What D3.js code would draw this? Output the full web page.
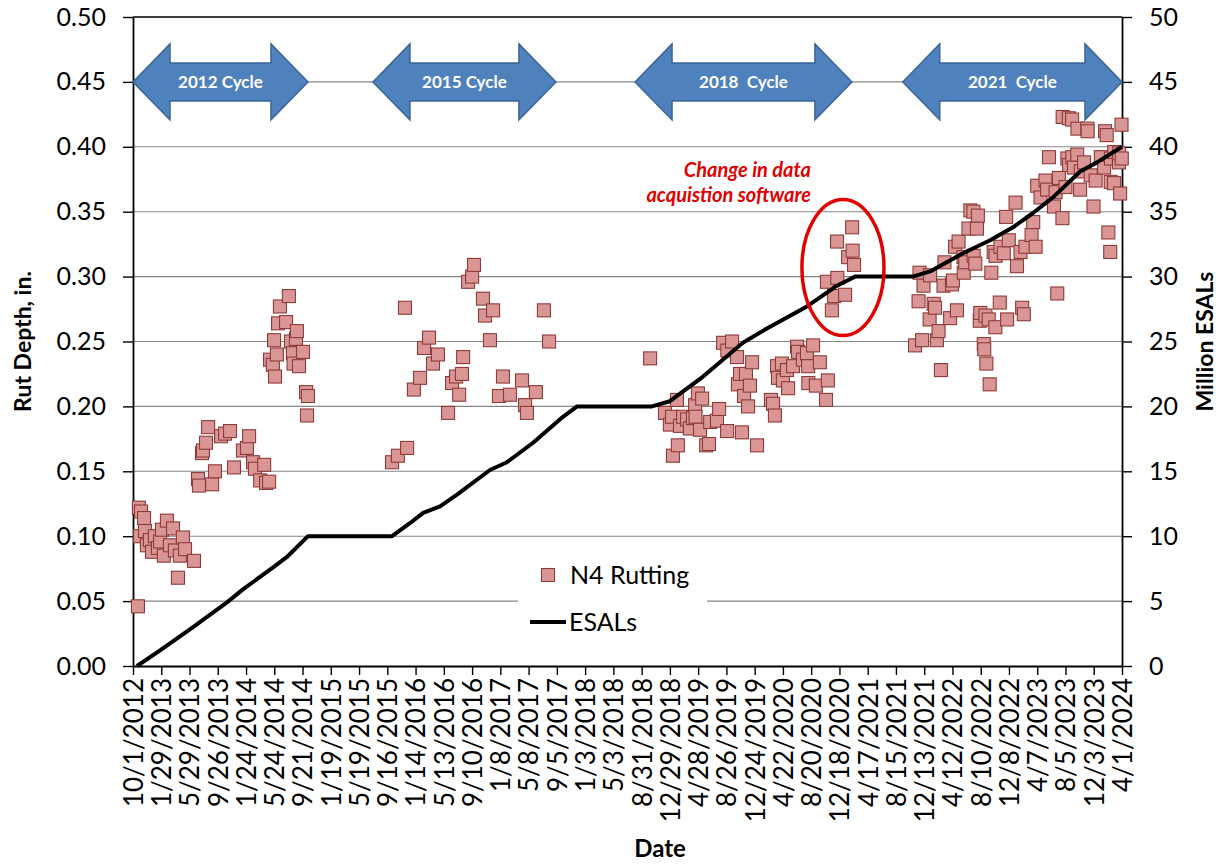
<!DOCTYPE html>
<html><head><meta charset="utf-8">
<script src="https://cdn.jsdelivr.net/npm/d3@7"></script>
<style>
body{margin:0;background:#fff}
svg text{font-family:Lato,"Open Sans",sans-serif;fill:#000}
</style>
</head><body>
<svg id="chart" width="1221" height="865"></svg>
<script>
// ---------------- DATA ----------------
const tickLabels = ["10/1/2012","1/29/2013","5/29/2013","9/26/2013","1/24/2014","5/24/2014","9/21/2014","1/19/2015","5/19/2015","9/16/2015","1/14/2016","5/13/2016","9/10/2016","1/8/2017","5/8/2017","9/5/2017","1/3/2018","5/3/2018","8/31/2018","12/29/2018","4/28/2019","8/26/2019","12/24/2019","4/22/2020","8/20/2020","12/18/2020","4/17/2021","8/15/2021","12/13/2021","4/12/2022","8/10/2022","12/8/2022","4/7/2023","8/5/2023","12/3/2023","4/1/2024"];
const rutTicks = [0,0.05,0.10,0.15,0.20,0.25,0.30,0.35,0.40,0.45,0.50];
const esalTicks = [0,5,10,15,20,25,30,35,40,45,50];

const cycleLabels = ["2012 Cycle","2015 Cycle","2018  Cycle","2021  Cycle"];
const cycleStarts = ["2012-10-01","2015-07-17","2018-08-03","2021-09-13"];
const cycleEnds   = ["2014-10-14","2017-09-01","2021-02-09","2024-04-01"];
const cycleLevel = 0.45;

const annotationLines = ["Change in data","acquistion software"];
const annotationFocus = ["2021-01-02", 0.307];

// ESALs (million) cumulative
const esalDates = ["2012-10-18","2013-01-24","2013-06-13","2013-11-04","2014-01-11","2014-05-19","2014-07-17","2014-10-14",
 "2015-10-06","2015-12-21","2016-02-15","2016-04-27","2016-07-08","2016-11-25","2017-02-05","2017-05-27","2017-10-01","2017-11-30",
 "2018-10-14","2018-12-29","2019-05-19","2019-11-04","2020-02-14","2020-08-02","2020-12-08","2021-02-22",
 "2021-10-26","2022-01-07","2022-05-27","2022-09-19","2022-12-25","2023-03-20","2023-06-13","2023-10-06","2023-12-17","2024-04-01"];
const esalMillions = [0,1.2,3.0,4.9,5.9,7.6,8.4,10,
 10,11.0,11.8,12.3,13.2,15.1,15.7,17.2,19.2,20,
 20,20.4,22.3,24.9,26.0,27.7,29.3,30,
 30,30.4,31.8,32.8,33.8,34.9,36.1,38.1,38.8,40];

// N4 rutting measurements [date, rut depth in.]
const n4Rutting = [
 ["2012-10-22",0.046],["2012-10-26",0.122],["2012-11-04",0.119],["2012-11-17",0.114],["2012-10-31",0.100],["2012-11-21",0.104],
 ["2012-11-29",0.093],["2012-12-12",0.097],["2012-12-21",0.088],["2013-01-02",0.100],["2013-01-15",0.091],["2013-01-24",0.096],
 ["2013-02-01",0.105],["2013-02-09",0.085],["2013-02-22",0.112],["2013-03-07",0.093],["2013-03-20",0.106],["2013-03-28",0.089],
 ["2013-04-10",0.068],["2013-04-18",0.085],["2013-05-01",0.099],["2013-05-10",0.090],["2013-06-17",0.081],
 ["2013-07-04",0.144],["2013-07-08",0.139],["2013-07-21",0.164],["2013-07-25",0.166],["2013-08-07",0.172],["2013-08-16",0.184],
 ["2013-09-02",0.140],["2013-09-14",0.150],["2013-10-10",0.177],["2013-10-27",0.179],["2013-11-17",0.181],["2013-12-04",0.153],
 ["2014-01-11",0.166],["2014-01-28",0.168],["2014-02-06",0.177],["2014-02-23",0.157],["2014-03-03",0.152],["2014-03-25",0.143],
 ["2014-04-11",0.155],["2014-04-19",0.141],["2014-05-02",0.142],
 ["2014-05-06",0.236],["2014-05-18",0.232],["2014-05-23",0.251],["2014-05-27",0.223],["2014-06-04",0.240],["2014-06-09",0.264],
 ["2014-06-17",0.277],["2014-07-13",0.265],["2014-07-25",0.285],["2014-08-03",0.250],["2014-08-11",0.241],["2014-08-14",0.233],
 ["2014-08-24",0.252],["2014-08-28",0.258],["2014-09-06",0.231],["2014-09-23",0.242],["2014-10-06",0.211],["2014-10-10",0.193],
 ["2014-10-14",0.208],
 ["2015-10-06",0.157],["2015-10-31",0.162],["2015-11-30",0.276],["2015-12-09",0.168],["2016-01-07",0.213],["2016-02-02",0.222],
 ["2016-02-19",0.245],["2016-03-11",0.253],["2016-03-28",0.233],["2016-04-18",0.240],["2016-05-31",0.195],["2016-06-17",0.218],
 ["2016-07-04",0.223],["2016-07-17",0.209],["2016-07-29",0.225],["2016-08-03",0.238],["2016-08-24",0.296],["2016-09-10",0.300],
 ["2016-09-18",0.309],["2016-10-26",0.283],["2016-11-04",0.270],["2016-11-25",0.251],["2016-12-08",0.274],["2017-01-02",0.208],
 ["2017-01-19",0.223],["2017-02-18",0.209],["2017-04-10",0.220],["2017-04-23",0.201],["2017-05-01",0.195],["2017-06-08",0.211],
 ["2017-07-12",0.274],["2017-08-03",0.250],
 ["2018-10-06",0.237],["2018-12-08",0.195],["2018-12-29",0.186],["2019-01-07",0.192],["2019-01-11",0.162],["2019-01-28",0.205],
 ["2019-02-01",0.170],["2019-02-10",0.185],["2019-02-23",0.192],["2019-03-12",0.190],["2019-03-24",0.183],["2019-04-06",0.191],
 ["2019-04-15",0.201],["2019-04-17",0.192],["2019-04-27",0.210],["2019-05-06",0.182],["2019-05-15",0.206],["2019-06-01",0.170],
 ["2019-06-13",0.171],["2019-06-18",0.188],["2019-07-17",0.189],["2019-07-26",0.198],["2019-08-12",0.249],["2019-08-29",0.181],
 ["2019-08-30",0.243],["2019-09-19",0.250],["2019-10-10",0.238],["2019-10-14",0.217],["2019-10-23",0.225],["2019-10-31",0.180],
 ["2019-11-09",0.208],["2019-11-17",0.225],["2019-11-26",0.200],["2019-12-04",0.216],["2019-12-13",0.234],["2020-01-03",0.170],
 ["2020-03-02",0.205],["2020-03-11",0.202],["2020-03-19",0.193],["2020-03-28",0.231],["2020-04-01",0.222],["2020-04-18",0.233],
 ["2020-04-22",0.220],["2020-05-09",0.228],["2020-05-14",0.214],["2020-06-04",0.231],["2020-06-21",0.246],["2020-06-25",0.242],
 ["2020-07-16",0.236],["2020-08-02",0.241],["2020-08-07",0.231],["2020-08-08",0.218],["2020-08-28",0.247],["2020-09-09",0.216],
 ["2020-09-26",0.234],["2020-10-22",0.205],["2020-10-30",0.220],
 ["2020-10-26",0.296],["2020-11-16",0.274],["2020-11-25",0.285],["2020-12-08",0.327],["2020-12-09",0.299],["2021-01-11",0.286],
 ["2021-01-24",0.315],["2021-02-10",0.338],["2021-02-12",0.320],["2021-02-18",0.309],
 ["2021-11-04",0.247],["2021-11-19",0.281],["2021-11-23",0.303],["2021-12-04",0.251],["2021-12-10",0.293],["2022-01-05",0.267],
 ["2022-01-07",0.301],["2022-01-22",0.279],["2022-01-28",0.276],["2022-02-05",0.251],["2022-02-12",0.258],["2022-02-22",0.228],
 ["2022-03-05",0.293],["2022-03-09",0.311],["2022-04-02",0.268],["2022-04-10",0.294],["2022-04-14",0.297],["2022-04-23",0.323],
 ["2022-05-01",0.274],["2022-05-08",0.327],["2022-05-29",0.315],["2022-05-30",0.303],["2022-06-05",0.311],["2022-06-19",0.337],
 ["2022-06-27",0.351],["2022-07-10",0.350],["2022-07-11",0.316],["2022-07-18",0.310],["2022-07-25",0.337],["2022-07-29",0.347],
 ["2022-08-06",0.266],["2022-08-08",0.272],["2022-08-23",0.248],["2022-08-25",0.244],["2022-08-30",0.270],["2022-09-03",0.233],
 ["2022-09-13",0.267],["2022-09-17",0.217],["2022-09-24",0.303],["2022-10-04",0.319],["2022-10-11",0.261],["2022-10-12",0.316],
 ["2022-10-30",0.280],["2022-11-02",0.323],["2022-11-16",0.318],["2022-11-26",0.346],["2022-11-30",0.267],["2022-12-07",0.328],
 ["2023-01-05",0.357],["2023-01-11",0.308],["2023-01-26",0.319],["2023-02-02",0.276],["2023-02-09",0.271],["2023-02-16",0.323],
 ["2023-03-14",0.332],["2023-03-21",0.342],["2023-03-31",0.323],["2023-04-07",0.370],["2023-04-21",0.361],["2023-05-12",0.374],
 ["2023-05-19",0.367],["2023-05-27",0.392],["2023-06-17",0.354],["2023-06-24",0.365],["2023-07-01",0.287],["2023-07-08",0.376],
 ["2023-07-23",0.345],["2023-07-24",0.423],["2023-08-05",0.369],["2023-08-13",0.391],["2023-08-19",0.422],["2023-08-20",0.386],
 ["2023-09-02",0.421],["2023-09-03",0.392],["2023-09-10",0.384],["2023-09-24",0.394],["2023-09-25",0.414],["2023-10-06",0.367],
 ["2023-10-09",0.381],["2023-10-23",0.388],["2023-11-06",0.414],["2023-11-07",0.412],["2023-11-20",0.378],["2023-12-02",0.354],
 ["2023-12-11",0.374],["2024-01-02",0.392],["2024-01-16",0.384],["2024-01-20",0.412],["2024-01-27",0.409],["2024-02-03",0.334],
 ["2024-02-11",0.319],["2024-02-13",0.373],["2024-02-14",0.391],["2024-02-27",0.372],["2024-02-28",0.396],["2024-03-19",0.388],
 ["2024-03-20",0.395],["2024-03-24",0.364],["2024-03-30",0.417],["2024-03-31",0.391]
];

// ---------------- CHART ----------------
const L = 133, R = 1122, T = 17, B = 666;
const iso = s => { const [y,m,d] = s.split("-").map(Number); return new Date(Date.UTC(y,m-1,d)); };
const mdy = s => { const [m,d,y] = s.split("/").map(Number); return new Date(Date.UTC(y,m-1,d)); };
const tickDates = tickLabels.map(mdy);

const svg = d3.select("#chart");
const x = d3.scaleUtc().domain([tickDates[0], tickDates[tickDates.length-1]]).range([L, R]);
const yL = d3.scaleLinear().domain([0, 0.5]).range([B, T]);
const yR = d3.scaleLinear().domain([0, 50]).range([B, T]);

// gridlines
svg.append("g").selectAll("line").data(rutTicks.filter(d => d > 0)).join("line")
  .attr("x1", L).attr("x2", R).attr("y1", d => yL(d)).attr("y2", d => yL(d))
  .attr("stroke", d => d === 0.5 ? "#000" : "#858585")
  .attr("stroke-width", d => d === 0.5 ? 1.6 : 1.1);

// axes
const axisStyle = (g, fs) => {
  g.select(".domain").attr("stroke", "#000").attr("stroke-width", 1.8);
  g.selectAll(".tick line").attr("stroke", "#000").attr("stroke-width", 1.4);
  g.selectAll(".tick text").style("font-size", fs + "px").attr("fill", "#000");
};
svg.append("g").attr("transform", `translate(${L},0)`)
  .call(d3.axisLeft(yL).tickValues(rutTicks).tickFormat(d3.format(".2f")).tickSize(10).tickPadding(17).tickSizeOuter(0))
  .call(g => axisStyle(g, 25));
svg.append("g").attr("transform", `translate(${R},0)`)
  .call(d3.axisRight(yR).tickValues(esalTicks).tickFormat(d3.format("d")).tickSize(10).tickPadding(17).tickSizeOuter(0))
  .call(g => axisStyle(g, 25));
svg.append("g").attr("transform", `translate(0,${B})`)
  .call(d3.axisBottom(x).tickValues(tickDates).tickFormat((d, i) => tickLabels[i]).tickSize(9).tickSizeOuter(0))
  .call(g => axisStyle(g, 26))
  .call(g => g.selectAll(".tick text")
     .attr("transform", "rotate(-90)").attr("x", -12).attr("y", 0).attr("dy", "0.36em")
     .style("text-anchor", "end"));

// axis titles
svg.append("text").attr("transform", `translate(31,${(T+B)/2}) rotate(-90)`)
  .attr("text-anchor", "middle").style("font-size", "23px").style("font-weight", "bold").text("Rut Depth, in.");
svg.append("text").attr("transform", `translate(1213,${(T+B)/2}) rotate(-90)`)
  .attr("text-anchor", "middle").style("font-size", "23px").style("font-weight", "bold").text("Million ESALs");
svg.append("text").attr("x", 660).attr("y", 857)
  .attr("text-anchor", "middle").style("font-size", "24px").style("font-weight", "bold").text("Date");

// cycle arrows
const headLen = 37, headHalf = 38, bodyHalf = 19;
const arrowPath = (x1, x2, cy) => `M${x1},${cy} L${x1+headLen},${cy-headHalf} L${x1+headLen},${cy-bodyHalf} L${x2-headLen},${cy-bodyHalf} L${x2-headLen},${cy-headHalf} L${x2},${cy} L${x2-headLen},${cy+headHalf} L${x2-headLen},${cy+bodyHalf} L${x1+headLen},${cy+bodyHalf} L${x1+headLen},${cy+headHalf} Z`;
const cycles = cycleLabels.map((label, i) => ({label, x1: x(iso(cycleStarts[i])), x2: x(iso(cycleEnds[i]))}));
const ag = svg.append("g");
ag.selectAll("path").data(cycles).join("path")
  .attr("d", d => arrowPath(d.x1, d.x2, yL(cycleLevel)))
  .attr("fill", "#4F81BD").attr("stroke", "#3A6597").attr("stroke-width", 1.5);
ag.selectAll("text").data(cycles).join("text")
  .attr("x", d => (d.x1 + d.x2) / 2).attr("y", yL(cycleLevel) + 6)
  .attr("text-anchor", "middle").style("font-size", "17px").style("font-weight", "bold")
  .style("fill", "#fff").style("white-space", "pre").text(d => d.label);

// scatter
svg.append("g").selectAll("rect").data(n4Rutting).join("rect")
  .attr("x", d => x(iso(d[0])) - 6.5).attr("y", d => yL(d[1]) - 6.5)
  .attr("width", 13).attr("height", 13)
  .attr("fill", "#D99694").attr("stroke", "#8E3B39").attr("stroke-width", 1.1);

// ESAL line
const esalPts = esalDates.map((d, i) => [iso(d), esalMillions[i]]);
svg.append("path").datum(esalPts)
  .attr("d", d3.line().x(d => x(d[0])).y(d => yR(d[1])))
  .attr("fill", "none").attr("stroke", "#000").attr("stroke-width", 4).attr("stroke-linejoin", "round");

// annotation
svg.append("ellipse")
  .attr("cx", x(iso(annotationFocus[0]))).attr("cy", yL(annotationFocus[1]))
  .attr("rx", 41).attr("ry", 68).attr("fill", "none").attr("stroke", "#E00000").attr("stroke-width", 3.5);
svg.append("g").selectAll("text").data(annotationLines).join("text")
  .attr("x", 811).attr("y", (d, i) => 177 + i * 25).attr("text-anchor", "end")
  .style("font-size", "20px").style("font-weight", "bold").style("font-style", "italic")
  .style("fill", "#E00000").text(d => d);

// legend
const lg = svg.append("g");
lg.append("rect").attr("x", 518).attr("y", 556).attr("width", 189).attr("height", 92).attr("fill", "#fff");
lg.append("rect").attr("x", 541.5).attr("y", 568.5).attr("width", 13).attr("height", 13)
  .attr("fill", "#D99694").attr("stroke", "#8E3B39").attr("stroke-width", 1.1);
lg.append("text").attr("x", 570).attr("y", 584).style("font-size", "25px").text("N4 Rutting");
lg.append("line").attr("x1", 530).attr("x2", 566).attr("y1", 622).attr("y2", 622)
  .attr("stroke", "#000").attr("stroke-width", 4);
lg.append("text").attr("x", 569).attr("y", 631).style("font-size", "25px").text("ESALs");
</script>
</body></html>
